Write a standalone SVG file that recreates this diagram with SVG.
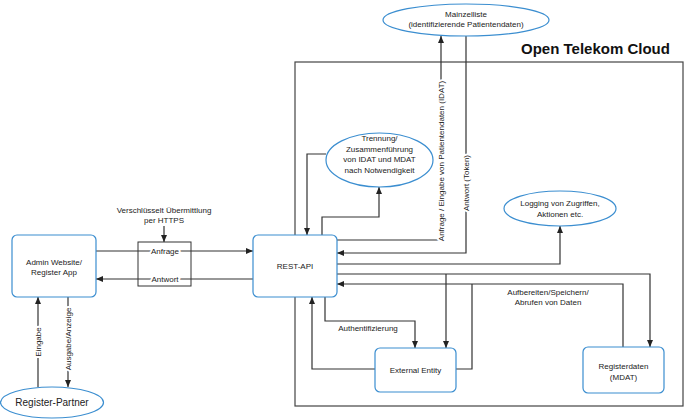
<svg xmlns="http://www.w3.org/2000/svg" width="684" height="419" viewBox="0 0 684 419">
<style>
text{font-family:"Liberation Sans",Arial,sans-serif;font-size:8px;fill:#222;text-anchor:middle}
.box{fill:#fff;stroke:#3b8ed0;stroke-width:1.2}
.ln{fill:none;stroke:#333;stroke-width:1.2}
.halo{stroke:#fff;stroke-width:4;paint-order:stroke;stroke-linejoin:round}
</style>
<defs>
<marker id="ah" markerUnits="userSpaceOnUse" markerWidth="8" markerHeight="6" refX="7" refY="3" orient="auto">
<path d="M0,0 L7,3 L0,6 z" fill="#222"/>
</marker>
</defs>
<rect width="684" height="419" fill="#fff"/>
<g id="cloud">
<rect x="295" y="62" width="388" height="344" fill="none" stroke="#444" stroke-width="1.2"/>
<text x="521" y="54" style="font-size:15px;font-weight:bold;text-anchor:start;fill:#111">Open Telekom Cloud</text>
</g>
<g id="connectors">
<!-- Admin <-> REST -->
<path class="ln" d="M96,251 H253" marker-end="url(#ah)"/>
<path class="ln" d="M253,279 H96" marker-end="url(#ah)"/>
<path class="ln" d="M164,226 V242" marker-end="url(#ah)"/>
<!-- Register-Partner <-> Admin -->
<path class="ln" d="M38,387 V297" marker-end="url(#ah)"/>
<path class="ln" d="M68,297 V387" marker-end="url(#ah)"/>
<!-- REST <-> Mainzelliste -->
<path class="ln" d="M337,240 H441 V36" marker-end="url(#ah)"/>
<path class="ln" d="M466,36 V253 H337" marker-end="url(#ah)"/>
<!-- REST <-> Trennung -->
<path class="ln" d="M326,154 H307 V235" marker-end="url(#ah)"/>
<path class="ln" d="M322,235 V217 H379 V187" marker-end="url(#ah)"/>
<!-- REST -> Logging -->
<path class="ln" d="M337,264 H560 V226" marker-end="url(#ah)"/>
<!-- REST -> Registerdaten / External Entity -->
<path class="ln" d="M337,274 H650 V347" marker-end="url(#ah)"/>
<path class="ln" d="M446,274 V348" marker-end="url(#ah)"/>
<!-- Registerdaten / External Entity -> REST -->
<path class="ln" d="M623,347 V284 H337" marker-end="url(#ah)"/>
<path class="ln" d="M456,369 H472 V284"/>
<!-- Authentifizierung -->
<path class="ln" d="M325,297 V321 H415 V348" marker-end="url(#ah)"/>
<path class="ln" d="M375,369 H312 V297" marker-end="url(#ah)"/>
<!-- labels -->
<text class="halo" x="165" y="254">Anfrage</text>
<text class="halo" x="165" y="282">Antwort</text>
<text x="164" y="213">Verschlüsselt Übermittlung</text>
<text x="164" y="223">per HTTPS</text>
<text class="halo" transform="translate(41,342) rotate(-90)">Eingabe</text>
<text class="halo" transform="translate(71,339) rotate(-90)">Ausgabe/Anzeige</text>
<text class="halo" transform="translate(444,161) rotate(-90)">Anfrage / Eingabe von Patientendaten (IDAT)</text>
<text class="halo" transform="translate(469,183) rotate(-90)">Antwort (Token)</text>
<text x="368" y="331">Authentifizierung</text>
<text x="548" y="295">Aufbereiten/Speichern/</text>
<text x="548" y="305">Abrufen von Daten</text>
</g>
<g id="anfrage-box">
<rect x="138" y="242" width="53" height="44" fill="none" stroke="#333" stroke-width="1"/>
</g>
<g id="mainzelliste">
<ellipse class="box" cx="466" cy="20" rx="83" ry="16"/>
<text x="466" y="17">Mainzelliste</text>
<text x="466" y="27">(identifizierende Patientendaten)</text>
</g>
<g id="trennung">
<ellipse class="box" cx="379.5" cy="160" rx="53.5" ry="27"/>
<text x="379.5" y="141">Trennung/</text>
<text x="379.5" y="151.5">Zusammenführung</text>
<text x="379.5" y="162">von IDAT und MDAT</text>
<text x="379.5" y="172.5">nach Notwendigkeit</text>
</g>
<g id="logging">
<ellipse class="box" cx="560" cy="208.5" rx="56" ry="17.5"/>
<text x="560" y="206">Logging von Zugriffen,</text>
<text x="560" y="216.5">Aktionen etc.</text>
</g>
<g id="rest-api">
<rect class="box" x="253" y="235" width="84" height="62" rx="5"/>
<text x="295" y="269">REST-API</text>
</g>
<g id="admin">
<rect class="box" x="12" y="235" width="84" height="62" rx="5"/>
<text x="54" y="265">Admin Website/</text>
<text x="54" y="275">Register App</text>
</g>
<g id="external-entity">
<rect class="box" x="375" y="348" width="81" height="44" rx="5"/>
<text x="415.5" y="372.5">External Entity</text>
</g>
<g id="registerdaten">
<rect class="box" x="583" y="347" width="81" height="46" rx="5"/>
<text x="623.5" y="369">Registerdaten</text>
<text x="623.5" y="380">(MDAT)</text>
</g>
<g id="register-partner">
<ellipse class="box" cx="52" cy="402.5" rx="51.5" ry="15.5"/>
<text x="52" y="406" style="font-size:10px">Register-Partner</text>
</g>
</svg>
